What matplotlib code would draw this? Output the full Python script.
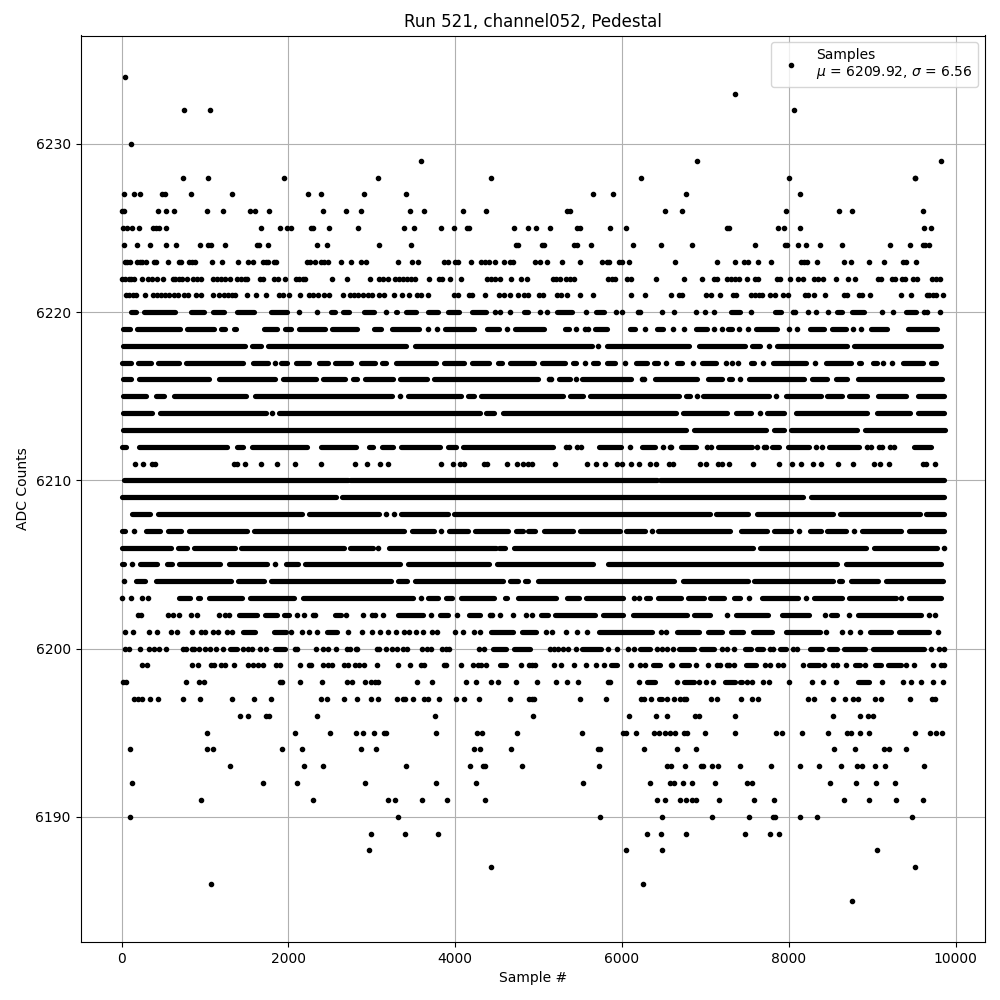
import matplotlib
matplotlib.use('Agg')
import matplotlib.pyplot as plt

# Sample numbers per ADC level.
# A plain number is one sample, a (start, end) pair is a stretch where the
# dots overlap so much that single samples can't be told apart.
row_6234 = [44]
row_6233 = [7356]
row_6232 = [752, 1064, 8064]
row_6230 = [116]
row_6229 = [3584, 6900, 9828]
row_6228 = [740, 1040, 1952, 3080, 4424, 6228, 8004, 9508, 9516]
row_6227 = [32, 152, 224, 488, 524, 836, 1328, 2240, 2396, 2912, 3416, 5652, 5892, 6768, 8136]
row_6226 = [4, 28, 440, 536, 632, 1028, 1220, 1544, 1604, 1772, 2420, 2696, 2876, 3464, 3620, 4088, 4364,
            5340, 5380, 6516, 6720, 7968, 8604, 8760, 9612]
row_6225 = [16, 68, 128, 212, 380, 412, 444, 536, 1676, 1904, 1988, 2028, 2268, 2292, 2492, 2840, 3392, 3512,
            3824, 3980, 4140, 4164, 4700, 4868, 4968, 5136, 5460, 5492, 5856, 6048, 7260, 7284, 7872, 7944,
            8136, 9624, 9708]
row_6224 = [32, 188, 344, 536, 656, 944, 1040, 1076, 1244, 1620, 1644, 1760, 2348, 2468, 3092, 3476, 4732, 4756,
            5036, 5060, 5424, 5460, 5628, 6132, 6468, 6840, 7596, 7956, 7980, 8112, 8208, 8376, 8640, 9216,
            9456, 9612, 9636, 9684]
row_6223 = [44, 68, 104, 188, 224, 248, 296, 392, 416, 560, 692, 716, 812, 848, 880, 1088, 1208, 1400, 1520,
            1580, 1700, 1736, 1760, 1832, 1856, 2228, 2264, 2324, 2396, 2432, 2480, 2636, 2756, 2876, 2936,
            3320, 3488, 3560, 3860, 3912, 3992, 4028, 4184, 4304, 4352, 4400, 4472, 4580, 4652, 4688,
            4956, 5016, 5100, 5280, 5496, 5760, 5820, 5844, 5964, 6000, 6084, 6636, 7140, 7356, 7464, 7512,
            7632, 7788, 8148, 8184, 8220, 8340, 8664, 8748, 8964, 9144, 9372, 9408, 9528]
row_6222 = [0, 40, 84, 116, 144, 248, 320, 368, 428, 500, 620, 644, 692, 728, 788, 860, 908, 956,
            1100, 1148, 1196, 1244, 1304, 1388, 1436, 1484, 1508, 1664, 1700, 1832, 1880, 1964, 2096, 2132,
            2180, 2204, 2528, 2708, 2984, 3092, 3140, 3200, 3284, 3332, 3380, 3428, 3476, 3524, 3680, 3800,
            3836, 3940, 4064, 4376, 4424, 4472, 4532, 4664, 4784, 4856, 5172, 5208, 5256, 5328, 5376, 5424,
            5832, 5880, 5916, 6060, 6108, 6408, 6744, 6960, 7104, 7140, 7260, 7308, 7356, 7404, 7500, 7596,
            7632, 7860, 7896, 8016, 8112, 8172, 8304, 8352, 8412, 8568, 8712, 8796, 9072, 9108, 9240, 9276,
            9360, 9396, 9492, 9540, 9720, 9768, 9816]
row_6221 = [56, 92, 140, 176, 284, 380, 428, 476, 524, 572, 632, 680, 752, 800, 896, 956, 1100, 1172, 1232,
            1280, 1328, 1364, 1508, 1616, 1736, 1892, 1940, 2012, 2144, 2252, 2300, 2360, 2432, 2492, 2660,
            2744, 2792, 2840, 2900, 2960, 3008, 3092, 3152, 3272, 3368, 3452, 3540, 3584, 3668, 3980, 4028,
            4160, 4196, 4352, 4520, 4580, 4652, 4748, 4820, 4868, 5004, 5052, 5220, 5268, 5340, 5500, 5652,
            6108, 6276, 6588, 6684, 6720, 7008, 7068, 7172, 7332, 7368, 7548, 7596, 7644, 7680, 7776, 7836,
            7932, 7992, 8196, 8232, 8304, 8436, 8664, 8700, 8844, 8880, 8976, 9348, 9468, 9660, 9684, 9732,
            9768, 9852]
row_6220 = [(116, 172), (272, 640), (832, 988), (1092, 1228), (1380, 1588), (1792, 1988), 2132, 2344,
            (2512, 2556), (2652, 2728), (2912, 3028), 3172, (3292, 3308), (3412, 3528), (3672, 3788),
            (3912, 4048), (4204, 4368), 4480, 4540, 4652, (4820, 4868), 5012, 5100, (5224, 5400), 5564,
            (5692, 5780), 5932, 6000, 6192, 6220, 6480, 6624, 6888, 6996, 7104, (7304, 7420), 7548,
            (7832, 7908), 8052, 8080, 8232, 8328, 8472, (8584, 8640), (8764, 8908), 9120, 9252,
            (9404, 9520), 9624, 9660, 9816]
row_6219 = [(12, 100), (184, 700), (788, 1108), (1192, 1236), (1352, 1372), (1704, 1860), (1964, 2036),
            (2124, 2436), (2524, 2828), (3032, 3116), (3244, 3568), 3672, 3780, (3872, 4228), (4380, 4528),
            4616, (4712, 5060), (5316, 5360), 5452, 5552, 5592, (5676, 5820), (6096, 6160), 6276,
            (6424, 6492), 6612, 6744, (6892, 7020), 7104, 7200, (7272, 7320), 7408, 7516, (7612, 7860),
            8000, 8100, (8256, 8428), (8524, 8688), 8772, 8868, (8992, 9180), (9424, 9780)]
row_6218 = [(12, 1480), (1564, 1668), (1752, 3408), (3516, 5640), 5712, (5824, 6808), (6924, 7480),
            (7564, 7660), 7760, (7864, 8700), (8788, 9828)]
row_6217 = [(0, 108), (192, 348), (432, 688), (772, 1456), (1572, 1760), 1840, (1912, 1988), (2092, 2248),
            (2364, 2476), (2564, 2748), (2872, 3036), (3124, 3168), (3292, 3768), (3860, 4108), (4204, 4408),
            (4512, 4556), (4660, 4948), (5044, 5320), (5412, 5448), 5560, (5652, 5708), (5824, 5920), 6040,
            (6168, 6300), (6380, 6428), 6528, (6664, 6720), 6852, (6964, 7124), 7252, 7324, 7392,
            (7548, 7588), 7692, (7816, 8212), 8320, (8444, 8748), (8844, 8868), (9012, 9060), 9132, 9240,
            (9364, 9612), (9704, 9760)]
row_6216 = [(12, 108), (204, 1048), (1164, 1840), (1932, 2328), (2420, 2676), (2772, 2820), (2924, 3260),
            (3344, 3660), (3744, 4992), 5124, 5148, (5244, 5380), 5444, (5524, 6108), 6236, 6260,
            (6396, 6900), (7032, 7200), (7284, 7320), 7412, (7524, 8180), (8276, 8460), (8564, 8700),
            (8832, 9840)]
row_6215 = [(12, 288), (412, 508), (624, 1496), (1596, 3248), 3344, (3432, 4068), (4152, 4220), (4312, 5292),
            (5372, 5532), (5612, 6680), (6764, 6820), 6900, (6972, 7760), 7844, (7964, 8388), (8464, 8640),
            (8724, 8940), (9064, 9408), (9544, 9860)]
row_6214 = [(20, 368), (460, 1732), 1800, (1884, 4300), (4372, 4468), (4572, 6648), (6736, 7260), (7372, 7548),
            7660, (7744, 7940), (8084, 8940), (9052, 9448), (9552, 9860)]
row_6213 = [(12, 6772), (6864, 7732), (7828, 7940), (8024, 8820), (8912, 9868)]
row_6212 = [(4, 48), (204, 1268), (1380, 1460), (1560, 2228), (2392, 2808), (2964, 3012), (3120, 3256),
            (3352, 3816), (3912, 4008), (4092, 5172), 5324, 5368, 5464, 5508, (5724, 5988), 6100, (6244, 6400),
            6496, 6572, 6592, (6712, 6888), 7016, 7068, (7156, 7560), 7620, 7704, 7732, (7804, 7880),
            (7992, 8240), 8324, 8404, (8484, 8840), 8944, 8988, 9084, 9120, 9212, 9260, (9504, 9708)]
row_6211 = [156, 260, 364, 404, 1352, 1388, 1480, 1676, 1868, 2084, 2396, 2804, 2948, 3104, 3200, 3824, 3968,
            4052, 4100, 4348, 4380, 4616, 4736, 4808, 4868, 4924, 5196, 5580, 5688, 5796, 5944, 6000, 6108,
            6204, 6332, 6404, 6564, 6612, 6940, 7004, 7152, 7204, 7284, 7572, 7884, 8040, 8148, 8292, 8388,
            8592, 8772, 9024, 9092, 9204, 9612, 9644, 9756]
row_6210 = [(32, 2720), (2740, 6420), (6450, 9860)]
row_6209 = [(0, 2568), (2644, 8172), (8264, 9860)]
row_6208 = [(124, 340), (432, 2168), (2252, 3088), 3172, 3264, (3352, 3908), (3980, 7052), (7132, 7508),
            (7624, 8532), (8612, 9572), (9644, 9860)]
row_6207 = [(0, 44), 144, (292, 460), (552, 708), (804, 1508), (1592, 3388), (3484, 3748), 3824, (3924, 4148),
            (4236, 4628), (4724, 4808), (4868, 4960), (5068, 5412), (5492, 5972), (6052, 6280), 6356,
            (6436, 7292), (7424, 7740), (7828, 8028), 8128, (8252, 8388), (8464, 8692), 8788, (8884, 9340),
            (9436, 9860)]
row_6206 = [(0, 596), (676, 788), (864, 1356), (1436, 2668), (2740, 3020), 3080, (3212, 4488), (4528, 4600),
            (4700, 7572), (7660, 8932), (9024, 9780), 9856]
row_6205 = [(0, 28), 120, (220, 428), (540, 604), (692, 1180), (1284, 1748), 1844, (1972, 2116), (2204, 3340),
            (3436, 4408), (4500, 5652), (5836, 8580), (8692, 9828)]
row_6204 = [32, (176, 280), (408, 1316), (1392, 1708), (1792, 3236), (3312, 3428), (3520, 4568), (4652, 4756),
            (4832, 4868), (4996, 6620), (6736, 7508), (7584, 8532), (8604, 8640), (8752, 9072), (9164, 9852)]
row_6203 = [8, 108, 240, 320, (684, 816), (912, 940), (1052, 1448), (1544, 2068), (2172, 3500), 3584,
            (3672, 3788), (3892, 3956), (4072, 4468), (4592, 4620), (4752, 5212), (5336, 5480), (5572, 6012),
            6148, 6200, (6292, 6332), (6436, 6708), (6796, 6980), (7052, 7220), (7348, 7420), 7520,
            (7676, 8108), 8204, (8308, 8640), (8724, 9280), 9348, (9436, 9828)]
row_6202 = [200, 232, 560, 612, 684, 836, 900, 1164, 1244, 1284, (1412, 1628), (1720, 1868), (1952, 2008), 2100,
            2192, 2300, 2316, (2560, 2628), 2692, 2900, 3004, 3036, 3140, (3312, 3608), 3704, (3820, 3908),
            4016, (4164, 4300), 4412, 4444, 4532, 4688, 4844, 4924, (5024, 5112), (5196, 5680), (5772, 6012),
            (6136, 6780), (6864, 7052), 7260, (7364, 7748), (7924, 8240), 8436, (8512, 8580), 8724,
            (8836, 9580), 9680, 9756]
row_6201 = [44, 140, 328, 428, 592, 660, 848, 956, 1004, 1092, 1156, 1260, 1328, (1452, 1600), (1824, 1968), 2028,
            2168, 2244, 2348, (2460, 2580), 2720, 2880, 3000, 3100, 3200, 3292, 3392, 3448, 3532, 3612, 3720,
            3780, 3992, 4088, 4220, 4292, (4432, 4688), (4804, 4964), 5092, 5156, 5332, 5464, 5580,
            (5724, 6360), 6464, 6528, (6664, 6920), (7036, 7200), (7312, 7452), (7576, 7800), (7972, 8380),
            8452, 8640, 8732, 8856, (8976, 9220), (9324, 9680), 9792]
row_6200 = [44, 92, 224, 332, 392, 444, 536, 732, 772, 840, 872, 932, 1004, 1064, 1136, 1212, (1300, 1388), 1452,
            1516, 1568, 1660, 1728, (1840, 1960), 2084, 2108, 2336, 2412, 2480, 2568, 2700, 2740, 2812, 2828,
            3060, 3084, 3172, 3248, 3308, 3372, 3420, 3596, 3656, 3704, 3836, 3884, 3920, 4284, 4348,
            (4452, 4608), (4704, 4892), 5132, 5180, 5232, 5288, 5352, 5448, (5520, 5748), 5832, 5940, 6076, 6140,
            (6216, 6340), 6416, 6480, 6540, 6616, (6688, 6860), (6944, 7108), 7200, 7260, 7340, (7476, 7548),
            (7624, 7692), 7772, 7812, (7900, 7972), 8052, 8100, (8252, 8400), (8484, 8580), (8664, 8920),
            (9004, 9620), 9708, 9804, 9864]
row_6199 = [248, 308, 848, 920, 1076, 1108, 1188, 1236, 1352, 1520, 1580, 1640, 1700, 1856, 1904, 2144, 2248, 2276,
            2420, 2480, 2528, 2672, 2720, 2804, 2852, 2912, 3068, 3320, 3464, 3588, 3628, 3860, 3884, 4064,
            4208, 4268, 4312, 4372, (4540, 4612), 4784, 4888, 4924, 4956, 5184, 5268, 5424, 5568, 5688, 5780,
            (5872, 5940), 6108, 6216, 6276, (6376, 6460), 6584, 6600, (6704, 6808), 6888, 7032, 7144, 7180,
            7256, 7288, 7344, (7492, 7612), 7712, 7780, 7872, 7932, 8172, (8244, 8360), 8424, 8536, 8580, 8688,
            (8792, 8852), 8916, (9032, 9100), (9184, 9340), 9408, 9504, 9732, 9820, 9864]
row_6198 = [20, 52, 776, 928, 988, 1900, 1924, 2144, 2408, 2708, 2768, 2924, 2996, 3044, 3076, 3548, 3716, 4124,
            4244, 4424, 4508, 4724, 4980, 5208, 5340, 5472, 5836, 5860, 6204, (6296, 6396), 6660, (6740, 6860),
            6924, 7008, 7092, (7232, 7360), (7412, 7440), 7504, 7560, 7692, 7760, 8004, 8280, 8412, 8568,
            (8828, 8960), 9120, 9372, 9468, 9588, 9732, 9852]
row_6197 = [152, 200, 248, 344, 440, 740, 944, 1328, 1592, 1792, 2396, 2460, 2672, 2828, 2996, 3080, 3308, 3372,
            3404, 3500, 3620, 3668, 3800, 4004, 4100, 4280, 4652, 4880, 4924, 4948, 5496, 5808, 6232, 6268, 6348,
            (6444, 6480), 6544, 6624, 6692, 6740, 6772, 7072, 7140, 7428, 7560, 7632, 8232, 8304, 8536, 8676,
            8772, 8832, 9036, 9100, 9448, 9712, 9748]
row_6196 = [1424, 1520, 1736, 1768, 2344, 3752, 4932, 6084, 6408, 6540, 6872, 6924, 7356, 8532, 8856, 8952, 9012]
row_6195 = [1028, 2084, 2504, 2816, 2900, 3032, 3152, 3176, 3764, 4256, 4316, 4736, 5520, 6016, 6052, 6172, 6384,
            6444, 6512, 6572, 6640, 6744, 6784, 6996, 7356, 7848, 7920, 8160, 8472, 8700, 8748, 8856, 8964, 9516,
            9696, 9768, 9840]
row_6194 = [104, 1028, 1100, 1928, 2168, 2876, 3056, 4220, 4292, 4664, 5712, 5736, 6264, 6660, 6888, 8544, 8796,
            9140, 9204, 9408]
row_6193 = [1304, 2192, 2420, 3416, 4172, 4336, 4356, 4796, 5724, 6540, 6588, 6756, 6948, 6972, 7080, 7152, 7416,
            7788, 8136, 8364, 8628, 8820, 8880, 9036, 9156, 9624]
row_6192 = [128, 1700, 2108, 2924, 3764, 4244, 5532, 6336, 6572, 6620, 6732, 6840, 7116, 7500, 7560, 8496, 8808,
            9048, 9276]
row_6191 = [956, 2300, 3200, 3284, 3596, 3896, 4352, 6420, 6516, 6696, 6768, 6840, 6888, 7164, 7584, 7824, 8664,
            8964, 9288, 9612]
row_6190 = [104, 3320, 5736, 6480, 7080, 7524, 7812, 7836, 8136, 8340, 9480]
row_6189 = [2996, 3404, 3788, 6300, 6468, 6768, 7476, 7776, 7884]
row_6188 = [2972, 6048, 6480, 9060]
row_6187 = [4424, 9516]
row_6186 = [1076, 6252]
row_6185 = [8760]

levels = [6234, 6233, 6232, 6230, 6229, 6228, 6227, 6226, 6225, 6224, 6223, 6222, 6221, 6220, 6219, 6218, 6217,
          6216, 6215, 6214, 6213, 6212, 6211, 6210, 6209, 6208, 6207, 6206, 6205, 6204, 6203, 6202, 6201, 6200,
          6199, 6198, 6197, 6196, 6195, 6194, 6193, 6192, 6191, 6190, 6189, 6188, 6187, 6186, 6185]
rows = [row_6234, row_6233, row_6232, row_6230, row_6229, row_6228, row_6227, row_6226, row_6225, row_6224,
        row_6223, row_6222, row_6221, row_6220, row_6219, row_6218, row_6217, row_6216, row_6215, row_6214,
        row_6213, row_6212, row_6211, row_6210, row_6209, row_6208, row_6207, row_6206, row_6205, row_6204,
        row_6203, row_6202, row_6201, row_6200, row_6199, row_6198, row_6197, row_6196, row_6195, row_6194,
        row_6193, row_6192, row_6191, row_6190, row_6189, row_6188, row_6187, row_6186, row_6185]

mean_adc = 6209.92
std_adc = 6.56

# Split single samples from overlapping stretches
xs, ys = [], []
run_y, run_start, run_end = [], [], []
for level, row in zip(levels, rows):
    for item in row:
        if isinstance(item, tuple):
            run_y.append(level)
            run_start.append(item[0])
            run_end.append(item[1])
        else:
            xs.append(item)
            ys.append(level)

fig, ax = plt.subplots(figsize=(10, 10), dpi=100)
ax.hlines(run_y, run_start, run_end, colors='k', linewidth=3.75, capstyle='round', zorder=2)
ax.plot(xs, ys, 'k.', label=f'Samples\n$\\mu$ = {mean_adc:.2f}, $\\sigma$ = {std_adc:.2f}')
ax.set_xlim(-493, 10353)
ax.set_ylim(6182.55, 6236.45)
ax.set_xticks([0, 2000, 4000, 6000, 8000, 10000])
ax.set_xlabel('Sample #')
ax.set_ylabel('ADC Counts')
ax.set_title('Run 521, channel052, Pedestal')
ax.ticklabel_format(useOffset=False, style='plain')
ax.grid(True)
ax.legend(loc='upper right')
fig.subplots_adjust(left=0.0805, right=0.985, top=0.9645, bottom=0.058)
plt.savefig('out.png', dpi=100)
